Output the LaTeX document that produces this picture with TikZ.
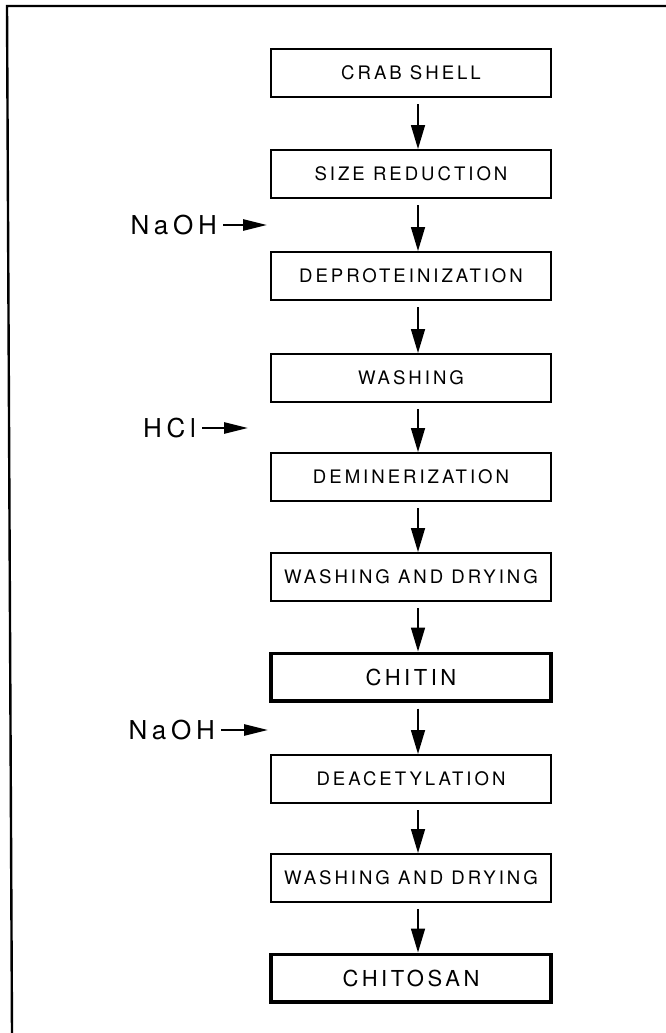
\documentclass[tikz,border=0pt]{standalone}
\usepackage{fontspec}
\newfontfamily\flowfont[LetterSpace=16]{TeX Gyre Heros}
\newfontfamily\reagentfont[LetterSpace=18]{TeX Gyre Heros}
\usetikzlibrary{shapes,arrows.meta}

\begin{document}
\begin{tikzpicture}[x=1pt,y=1pt]
        % Crab shell to chitin and chitosan
        \tikzstyle{block} = [draw,rectangle,line width=1.6pt,minimum width=280pt,minimum height=48.4pt,inner sep=0pt,font=\flowfont\fontsize{18.6}{20}\selectfont];
        \tikzstyle{product} = [block,line width=3.2pt,minimum height=47.8pt,font=\flowfont\fontsize{22}{24}\selectfont];
        \tikzstyle{reagent} = [anchor=east,inner sep=2pt,font=\reagentfont\fontsize{26}{28}\selectfont];
        \tikzstyle{flow} = [-{Triangle[length=24pt,width=14pt]},line width=1.6pt,shorten <=6pt];
        \tikzstyle{feed} = [-{Triangle[length=24pt,width=11pt]},line width=2.6pt,shorten <=4pt];

        \useasboundingbox (0,0) rectangle (666,-1033);
        \draw[line width=2.4pt] (12,-1033) -- (7,-6) -- (666,-6);

        \node[block] (crab) at (411,-73) {CRAB SHELL};
        \node[block] (size) at (411,-174) {SIZE REDUCTION};
        \node[block] (deprot) at (411,-276) {DEPROTEINIZATION};
        \node[block] (wash) at (411,-378) {WASHING};
        \node[block] (demin) at (411,-477) {DEMINERIZATION};
        \node[block] (washdry) at (411,-577) {WASHING AND DRYING};
        \node[product] (chitin) at (411,-677) {CHITIN};
        \node[block] (deacet) at (411,-779) {DEACETYLATION};
        \node[block] (washdrytwo) at (411,-878) {WASHING AND DRYING};
        \node[product] (chitosan) at (411,-978) {CHITOSAN};

        \node[reagent] (naoh) at (219,-225) {NaOH};
        \node[reagent] (hcl) at (198,-428) {HCl};
        \node[reagent] (naohtwo) at (217,-730) {NaOH};
        \coordinate (naohin) at (267,-225);
        \coordinate (hclin) at (248,-428);
        \coordinate (naohtwoin) at (268,-730);

        \draw[flow] ([xshift=7pt]crab.south) -- ([xshift=7pt]size.north);
        \draw[flow] ([xshift=7pt]size.south) -- ([xshift=7pt]deprot.north);
        \draw[flow] ([xshift=7pt]deprot.south) -- ([xshift=7pt]wash.north);
        \draw[flow] ([xshift=7pt]wash.south) -- ([xshift=7pt]demin.north);
        \draw[flow] ([xshift=7pt]demin.south) -- ([xshift=7pt]washdry.north);
        \draw[flow] ([xshift=7pt]washdry.south) -- ([xshift=7pt]chitin.north);
        \draw[flow] ([xshift=7pt]chitin.south) -- ([xshift=7pt]deacet.north);
        \draw[flow] ([xshift=7pt]deacet.south) -- ([xshift=7pt]washdrytwo.north);
        \draw[flow] ([xshift=7pt]washdrytwo.south) -- ([xshift=7pt]chitosan.north);

        \draw[feed] (naoh.east) -- (naohin);
        \draw[feed] (hcl.east) -- (hclin);
        \draw[feed] (naohtwo.east) -- (naohtwoin);

    \end{tikzpicture}
\end{document}
